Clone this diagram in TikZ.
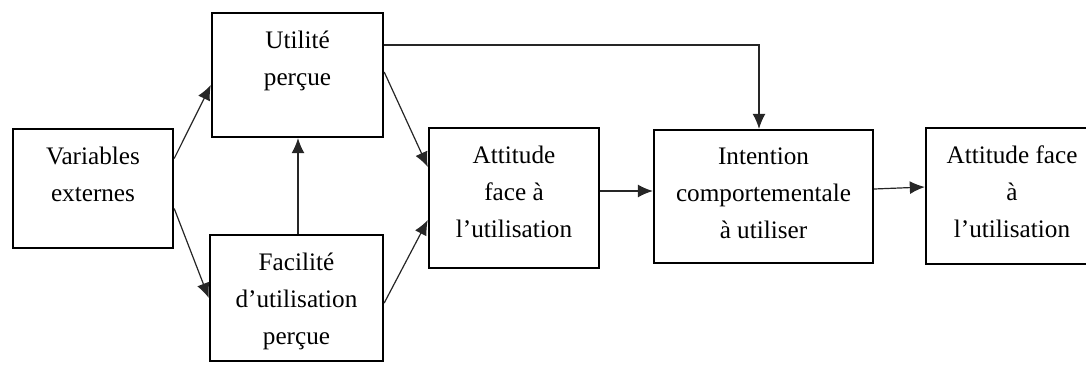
\documentclass[tikz,border=0pt]{standalone}
\usepackage{fontspec}
\setmainfont{Liberation Serif}
\usetikzlibrary{positioning,arrows.meta}

\begin{document}
\begin{tikzpicture}[
x=0.5pt,
y=-0.5pt,
box/.style={
  draw,
  line width=1.2pt,
  inner sep=0pt
  },
lbl/.style={
  anchor=north,
  align=center,
  inner sep=0pt,
  yshift=-9.5pt,
  font=\fontsize{12.6}{18.5}\selectfont
  },
link/.style={
  draw=black!85,
  line width=0.6pt
  },
>={Latex[length=7.5pt,width=6.5pt]}
]
\useasboundingbox (0,0) rectangle (1086,364);

% boxes
\node[box, minimum width=80pt, minimum height=59.5pt] (var) at (93,188.5) {};
\node[box, minimum width=85.5pt, minimum height=62pt] (util) at (297.5,75) {};
\node[box, minimum width=86.5pt, minimum height=63pt] (facil) at (296.5,298) {};
\node[box, minimum width=85pt, minimum height=70pt] (att) at (514,198) {};
\node[box, minimum width=109.5pt, minimum height=66.5pt] (inten) at (763.5,196.5) {};
\node[box, minimum width=86pt, minimum height=68pt] (usage) at (1012,196) {};

% texts
\node[lbl] (var-txt) at (var.north) {Variables\\externes};
\node[lbl] (util-txt) at (util.north) {Utilité\\perçue};
\node[lbl] (facil-txt) at (facil.north) {Facilité\\d’utilisation\\perçue};
\node[lbl] (att-txt) at (att.north) {Attitude\\face à\\l’utilisation};
\node[lbl] (inten-txt) at (inten.north) {Intention\\comportementale\\à utiliser};
\node[lbl] (usage-txt) at (usage.north) {Attitude face\\à\\l’utilisation};

% links
\draw[link,->] ([yshift=15pt]var.east) -- ([yshift=-5pt]util.west);
\draw[link,->] ([yshift=-10pt]var.east) -- (facil.west);
\draw[link,->] ([xshift=0.75pt]facil.north) -- ([xshift=0.75pt]facil.north |- util.south);
\draw[link,->] ([yshift=1.5pt]util.east) -- ([yshift=15.5pt]att.west);
\draw[link,->] ([yshift=-2.5pt]facil.east) -- ([yshift=-11pt]att.west);
\draw[link,->] ([yshift=15pt]util.east) -| ([xshift=-2.25pt]inten.north);
\draw[link,->] ([yshift=3.5pt]att.east) -- ([yshift=2.75pt]inten.west);
\draw[link,->] ([yshift=3.75pt]inten.east) -- ([yshift=4.5pt]usage.west);
\end{tikzpicture}
\end{document}
